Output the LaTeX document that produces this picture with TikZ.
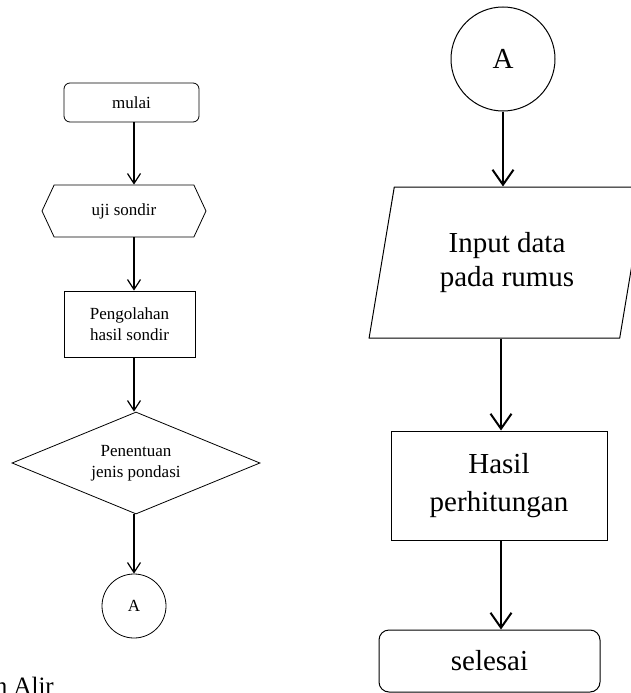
\documentclass[tikz,border=0pt]{standalone}
\usepackage{fontspec}
\setmainfont{Liberation Serif}
\usetikzlibrary{shapes.geometric,shapes.symbols,arrows.meta}

\begin{document}
\begin{tikzpicture}[x=1pt,y=-1pt,
    small/.style={font=\fontsize{17}{21}\selectfont,align=center,inner sep=0pt,line width=0.8pt},
    big/.style={font=\fontsize{29}{34}\selectfont,align=center,inner sep=0pt,line width=1pt},
    arrL/.style={line width=1.2pt,-{Straight Barb[length=10pt,width=13pt]}},
    arrR/.style={line width=2pt,-{Straight Barb[length=15pt,width=21pt]}}]
    \useasboundingbox (0,0) rectangle (631,693);
    \clip (0,0) rectangle (631,693);
    \coordinate (colL) at (134,0);
    \coordinate (colR) at (501,0);
    % kolom kiri
    \node[small,draw,rounded corners=6pt,minimum width=135pt,minimum height=39pt] (mulai) at (131.5,102.5) {mulai};
    \node[small,draw,signal,signal to=east and west,signal pointer angle=130,minimum width=164pt,minimum height=52pt] (uji) at (124,211) {uji sondir};
    \node[small,draw,minimum width=131pt,minimum height=66pt] (olah) at (129.5,324) {Pengolahan\\hasil sondir};
    \node[small,draw,diamond,aspect=2.4,minimum width=248pt,minimum height=102pt] (tentu) at (136,463) {Penentuan\\jenis pondasi};
    \node[small,draw,circle,minimum size=64pt] (A1) at (134,606) {A};
    \node[font=\fontsize{25}{30}\selectfont,anchor=base east,inner sep=0pt] (judul) at (54,694) {Bagan Alir};
    \draw[arrL] (mulai.south -| colL) -- (uji.north -| colL);
    \draw[arrL] (uji.south -| colL) -- (olah.north -| colL);
    \draw[arrL] (olah.south -| colL) -- (tentu.north -| colL);
    \draw[arrL] (tentu.south -| colL) -- (A1);
    % kolom kanan
    \node[big,draw,circle,minimum size=104pt] (A2) at (503,59) {A};
    \node[big,draw,trapezium,trapezium left angle=76,trapezium right angle=104,trapezium stretches=true,minimum width=276pt,minimum height=151pt] (input) at (507,262.5) {Input data\\pada rumus};
    \node[big,draw,minimum width=216pt,minimum height=109pt] (hasil) at (499,485.5) {Hasil\\[4pt]perhitungan};
    \node[big,draw,rounded corners=10pt,minimum width=221pt,minimum height=62pt] (selesai) at (489.5,661) {selesai};
    \draw[arrR] (A2) -- (A2 |- input.north);
    \draw[arrR] (input.south -| colR) -- (hasil.north -| colR);
    \draw[arrR] (hasil.south -| colR) -- (selesai.north -| colR);
\end{tikzpicture}
\end{document}
